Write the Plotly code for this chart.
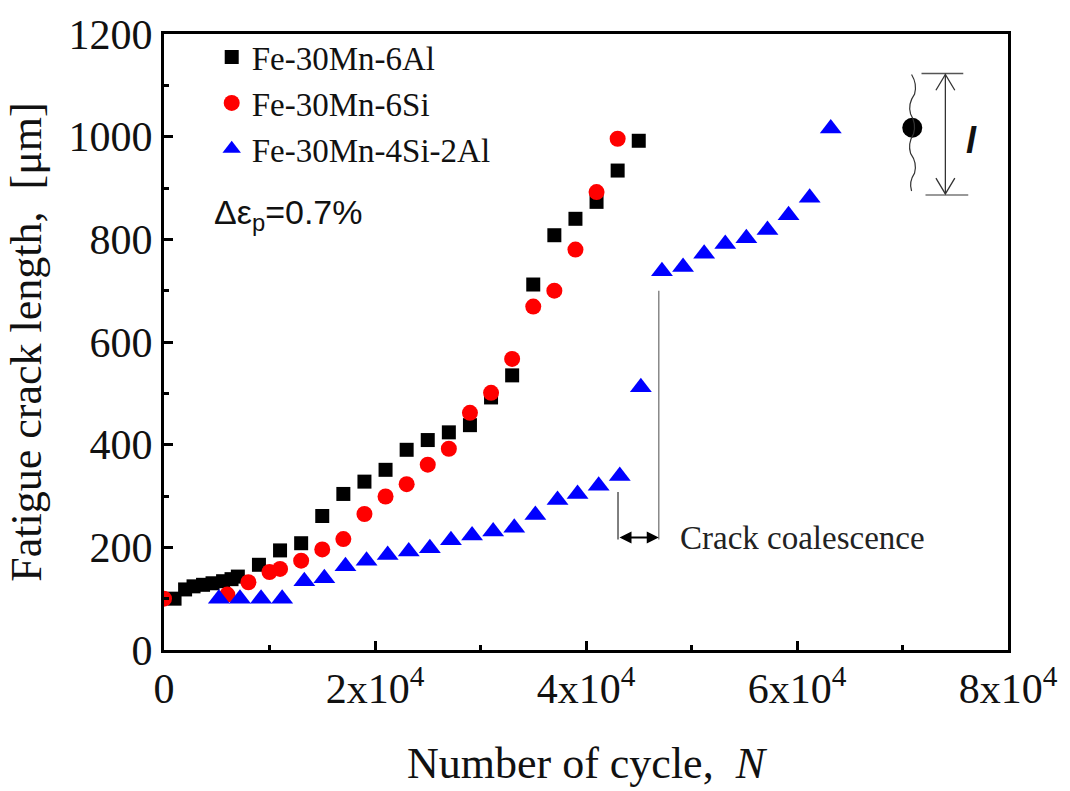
import plotly.graph_objects as go

# ---------------- data ----------------
al_N = [1000, 2000, 2800, 3700, 4600, 5600, 6400, 7000, 9000, 11000, 13000, 15000, 17000,
        19000, 21000, 23000, 25000, 27000, 29000, 31000, 33000, 35000, 37000, 39000, 41000,
        43000, 45000]
al_L = [100, 118, 124, 127, 130, 134, 138, 143, 166, 194, 208, 261, 304,
        328, 351, 390, 409, 424, 438, 492, 535, 712, 808, 840, 873,
        934, 992]

si_N = [0, 6000, 8000, 10000, 11000, 13000, 15000, 17000, 19000, 21000, 23000, 25000,
        27000, 29000, 31000, 33000, 35000, 37000, 39000, 41000, 43000]
si_L = [100, 108, 132, 152, 158, 174, 196, 216, 265, 299, 323, 361,
        392, 462, 501, 567, 669, 700, 780, 892, 996]

sial_N = [5200, 7200, 9200, 11200, 13300, 15200, 17200, 19200, 21200, 23200, 25200, 27200,
          29200, 31200, 33200, 35200, 37300, 39200, 41200, 43200, 45200, 47200, 49200, 51200,
          53200, 55200, 57200, 59200, 61200, 63200]
sial_L = [100, 100, 100, 100, 134, 140, 163, 174, 185, 192, 198, 214,
          223, 231, 238, 263, 292, 304, 320, 339, 512, 738, 746, 772,
          791, 802, 818, 847, 881, 1016]

series_names = ["Fe-30Mn-6Al", "Fe-30Mn-6Si", "Fe-30Mn-4Si-2Al"]
x_tickvals = [0, 20000, 40000, 60000, 80000]
x_ticktext = ["0", "2x10<sup>4</sup>", "4x10<sup>4</sup>", "6x10<sup>4</sup>", "8x10<sup>4</sup>"]
y_tickvals = [0, 200, 400, 600, 800, 1000, 1200]

# ---------------- layout geometry ----------------
W, H = 1070, 791
L, R, T, B = 164, 57, 29, 138
PW, PH = W - L - R, H - T - B
XMAX, YMAX = 80000, 1200


def dx(px):
    return (px - L) / PW * XMAX


def dy(py):
    return (T + PH - py) / PH * YMAX


SERIF = "Liberation Serif"
SANS = "Liberation Sans"

fig = go.Figure()
fig.add_trace(go.Scatter(x=al_N, y=al_L, mode="markers", name=series_names[0],
                         marker=dict(symbol="square", size=14, color="#000000", line=dict(width=0))))
fig.add_trace(go.Scatter(x=si_N, y=si_L, mode="markers", name=series_names[1],
                         marker=dict(symbol="circle", size=16, color="#FF0000", line=dict(width=0))))
fig.add_trace(go.Scatter(x=sial_N, y=sial_L, mode="markers", name=series_names[2],
                         marker=dict(symbol="triangle-up", size=19, color="#0000FF", line=dict(width=0))))

# inset: crack sketch with dot
fig.add_trace(go.Scatter(x=[dx(916.7)], y=[dy(124)], mode="markers", showlegend=False,
                         hoverinfo="skip",
                         marker=dict(symbol="circle", size=20, color="#000000")))

shapes = []
# wavy line of inset
wave_pts = [(916, 70), (919, 90), (915, 110), (918, 130), (915, 150), (919, 170), (916, 188)]
path = "M %f,%f" % (dx(wave_pts[0][0]), dy(wave_pts[0][1]))
for i in range(1, len(wave_pts)):
    x0, y0 = wave_pts[i - 1]
    x1, y1 = wave_pts[i]
    cx = x1 + (3 if i % 2 else -3)
    cy = (y0 + y1) / 2
    path += " Q %f,%f %f,%f" % (dx(cx), dy(cy), dx(x1), dy(y1))
shapes.append(dict(type="path", path=path, xref="x", yref="y",
                   line=dict(color="#333333", width=1.2)))
# top / bottom bars
shapes.append(dict(type="line", xref="x", yref="y", x0=dx(926), x1=dx(968), y0=dy(69), y1=dy(69),
                   line=dict(color="#555555", width=1.5)))
shapes.append(dict(type="line", xref="x", yref="y", x0=dx(930), x1=dx(973), y0=dy(192), y1=dy(192),
                   line=dict(color="#777777", width=1.5)))
# vertical arrow with open heads
shapes.append(dict(type="line", xref="x", yref="y", x0=dx(950), x1=dx(950), y0=dy(70), y1=dy(191),
                   line=dict(color="#333333", width=1.3)))
for tip, back in [(70, 86), (191, 175)]:
    p = "M %f,%f L %f,%f L %f,%f" % (dx(940.5), dy(back), dx(950), dy(tip), dx(959.5), dy(back))
    shapes.append(dict(type="path", path=p, xref="x", yref="y",
                       line=dict(color="#333333", width=1.3)))

# crack coalescence guide lines
shapes.append(dict(type="line", xref="x", yref="y", x0=dx(620.7), x1=dx(620.7), y0=dy(493), y1=dy(541),
                   line=dict(color="#555555", width=1.5)))
shapes.append(dict(type="line", xref="x", yref="y", x0=dx(661.7), x1=dx(661.7), y0=dy(289), y1=dy(541),
                   line=dict(color="#888888", width=1.5)))

annotations = [
    dict(x=dx(661.7), y=dy(539), ax=dx(620.7), ay=dy(539), xref="x", yref="y", axref="x", ayref="y",
         text="", showarrow=True, arrowhead=2, arrowside="end+start", arrowsize=1.2, arrowwidth=2,
         arrowcolor="#000000"),
    dict(x=dx(681), y=dy(540), xref="x", yref="y", xanchor="left", yanchor="middle",
         text="Crack coalescence", showarrow=False,
         font=dict(family=SERIF, size=33, color="#222222")),
    dict(x=dx(212), y=dy(212), xref="x", yref="y", xanchor="left", yanchor="middle",
         text="Δε<sub>p</sub>=0.7%", showarrow=False,
         font=dict(family=SANS, size=34, color="#111111")),
    dict(x=dx(976), y=dy(137), xref="x", yref="y", xanchor="center", yanchor="middle",
         text="<i><b>l</b></i>", showarrow=False,
         font=dict(family=SANS, size=36, color="#111111")),
]

axis_common = dict(showline=True, linecolor="#000000", linewidth=3, mirror=True,
                   ticks="inside", ticklen=9, tickwidth=3, tickcolor="#000000",
                   showgrid=False, zeroline=False,
                   tickfont=dict(family=SERIF, size=42, color="#111111"))

fig.update_layout(
    width=W, height=H,
    margin=dict(l=L, r=R, t=T, b=B, pad=0),
    paper_bgcolor="#FFFFFF", plot_bgcolor="#FFFFFF",
    shapes=shapes, annotations=annotations,
    showlegend=True,
    legend=dict(x=(212 - L) / PW, y=1 - (24 - T) / PH, xanchor="left", yanchor="top",
                bgcolor="rgba(0,0,0,0)", borderwidth=0,
                font=dict(family=SERIF, size=33, color="#111111"),
                itemwidth=30, tracegroupgap=0),
    xaxis=dict(range=[0, XMAX], tickvals=x_tickvals, ticktext=x_ticktext,
               minor=dict(ticks="inside", ticklen=5, tickwidth=3, tickcolor="#000000", dtick=10000),
               title=dict(text="Number of cycle,\u00a0\u00a0<i>N</i>", standoff=36,
                          font=dict(family=SERIF, size=44, color="#111111")),
               **axis_common),
    yaxis=dict(range=[0, YMAX], tickvals=y_tickvals,
               minor=dict(ticks="inside", ticklen=5, tickwidth=3, tickcolor="#000000", dtick=100),
               title=dict(text="Fatigue crack length,\u00a0\u00a0[μm]", standoff=14,
                          font=dict(family=SERIF, size=44, color="#111111")),
               **axis_common),
)

fig.write_html("out.html")
